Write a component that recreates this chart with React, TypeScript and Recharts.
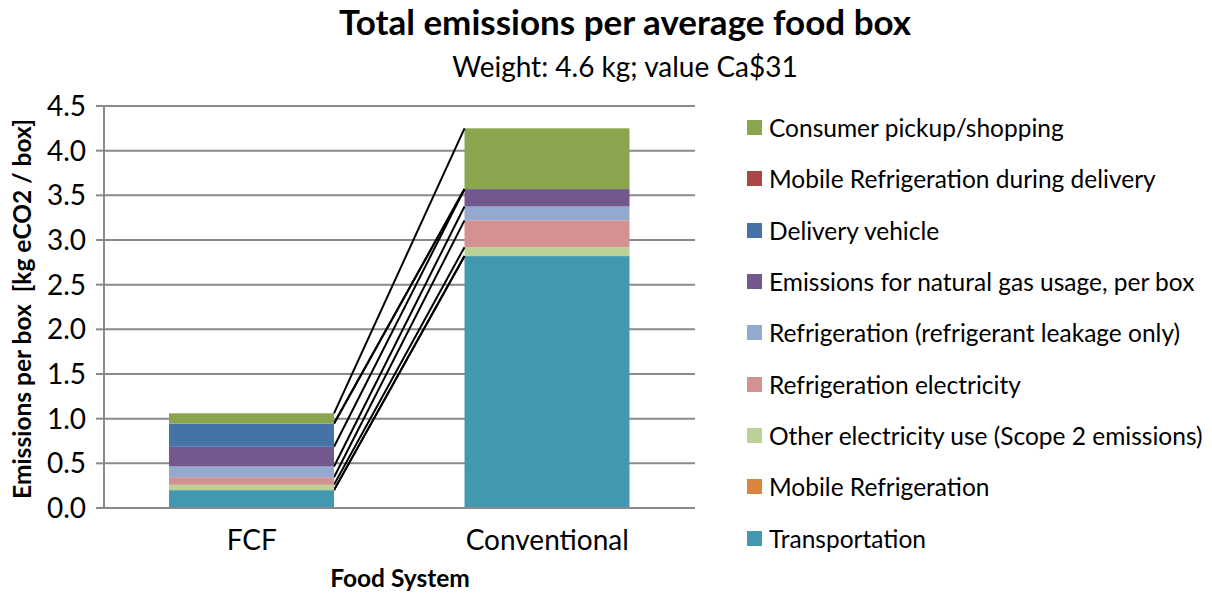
import React from "react";
import { BarChart, Bar, XAxis, YAxis, CartesianGrid } from "recharts";

const categories = ["FCF", "Conventional"];

const transportation = [0.2, 2.82];
const mobileRefrigeration = [0, 0];
const otherElectricity = [0.06, 0.1];
const refrigerationElectricity = [0.085, 0.3];
const refrigerantLeakage = [0.12, 0.155];
const naturalGas = [0.22, 0.195];
const deliveryVehicle = [0.26, 0];
const mobileRefrigerationDelivery = [0, 0];
const consumerPickup = [0.115, 0.68];

const yTicks = [0, 0.5, 1, 1.5, 2, 2.5, 3, 3.5, 4, 4.5];

// bottom to top stacking order
const series = [
  { key: "transportation", name: "Transportation", color: "#4198AF", values: transportation },
  { key: "mobileRefrigeration", name: "Mobile Refrigeration", color: "#DB843D", values: mobileRefrigeration },
  { key: "otherElectricity", name: "Other electricity use (Scope 2 emissions)", color: "#BBD197", values: otherElectricity },
  { key: "refrigerationElectricity", name: "Refrigeration electricity", color: "#D39191", values: refrigerationElectricity },
  { key: "refrigerantLeakage", name: "Refrigeration (refrigerant leakage only)", color: "#93A9CF", values: refrigerantLeakage },
  { key: "naturalGas", name: "Emissions for natural gas usage, per box", color: "#73588F", values: naturalGas },
  { key: "deliveryVehicle", name: "Delivery vehicle", color: "#4572A7", values: deliveryVehicle },
  { key: "mobileRefrigerationDelivery", name: "Mobile Refrigeration during delivery", color: "#AA4643", values: mobileRefrigerationDelivery },
  { key: "consumerPickup", name: "Consumer pickup/shopping", color: "#89A54E", values: consumerPickup },
];

const data = categories.map((name, i) => {
  const row: Record<string, any> = { name };
  series.forEach((s) => (row[s.key] = s.values[i]));
  return row;
});

const FONT = "Lato, 'Open Sans', sans-serif";

// right-top corner of each FCF segment, used to draw the series lines
const fcfTops: Record<string, { x: number; y: number }> = {};

function makeShape(key: string, color: string) {
  return (props: any) => {
    const { x, y, width, height, index } = props;
    if (index === 0) fcfTops[key] = { x: x + width, y };
    const from = fcfTops[key];
    return (
      <g>
        {height > 0 && <rect x={x} y={y} width={width} height={height} fill={color} />}
        {index === 1 && from && (
          <line x1={from.x} y1={from.y} x2={x} y2={y} stroke="#000" strokeWidth={2} />
        )}
      </g>
    );
  };
}

function LegendBox() {
  const items = [...series].reverse();
  return (
    <div
      style={{
        position: "absolute",
        left: 747,
        top: 102,
        fontFamily: FONT,
        fontSize: 24.5,
        color: "#000",
      }}
    >
      {items.map((s) => (
        <div key={s.key} style={{ height: 51.3, display: "flex", alignItems: "center" }}>
          <span style={{ width: 15, height: 15, background: s.color, display: "inline-block", marginRight: 7 }} />
          <span style={{ whiteSpace: "nowrap" }}>{s.name}</span>
        </div>
      ))}
    </div>
  );
}

export default function App() {
  return (
    <div style={{ position: "absolute", left: 0, top: 0, width: 1212, height: 597, background: "#fff" }}>
      <BarChart
        width={1212}
        height={597}
        data={data}
        margin={{ top: 106, right: 517, left: 8, bottom: 0 }}
        barCategoryGap="22%"
      >
        <CartesianGrid vertical={false} stroke="#8a8a8a" strokeWidth={2} />
        <XAxis
          dataKey="name"
          tickLine={false}
          axisLine={{ stroke: "#8a8a8a", strokeWidth: 2 }}
          tick={{ fill: "#000", fontSize: 28, fontFamily: FONT }}
          tickMargin={16}
          height={89}
        />
        <YAxis
          domain={[0, 4.5]}
          ticks={yTicks}
          tickFormatter={(v: number) => v.toFixed(1)}
          tick={{ fill: "#000", fontSize: 28, fontFamily: FONT }}
          tickSize={8}
          tickMargin={10}
          tickLine={{ stroke: "#8a8a8a", strokeWidth: 2 }}
          axisLine={{ stroke: "#8a8a8a", strokeWidth: 2 }}
          width={96}
          interval={0}
        />
        {series.map((s) => (
          <Bar
            key={s.key}
            dataKey={s.key}
            name={s.name}
            stackId="a"
            fill={s.color}
            shape={makeShape(s.key, s.color)}
            isAnimationActive={false}
          />
        ))}
      </BarChart>
      <LegendBox />
      <svg
        width={1212}
        height={597}
        style={{ position: "absolute", left: 0, top: 0, pointerEvents: "none" }}
      >
        <text x={625} y={35} textAnchor="middle" fontFamily={FONT} fontWeight="bold" fontSize={35} fill="#000">
          Total emissions per average food box
        </text>
        <text x={625} y={77} textAnchor="middle" fontFamily={FONT} fontSize={28} fill="#000">
          Weight: 4.6 kg; value Ca$31
        </text>
        <text x={400} y={587} textAnchor="middle" fontFamily={FONT} fontWeight="bold" fontSize={24.5} fill="#000">
          Food System
        </text>
        <text
          transform="translate(31,309) rotate(-90)"
          textAnchor="middle"
          fontFamily={FONT}
          fontWeight="bold"
          fontSize={24.5}
          fill="#000"
        >
          {"Emissions per box \u00a0[kg eCO2 / box]"}
        </text>
      </svg>
    </div>
  );
}
